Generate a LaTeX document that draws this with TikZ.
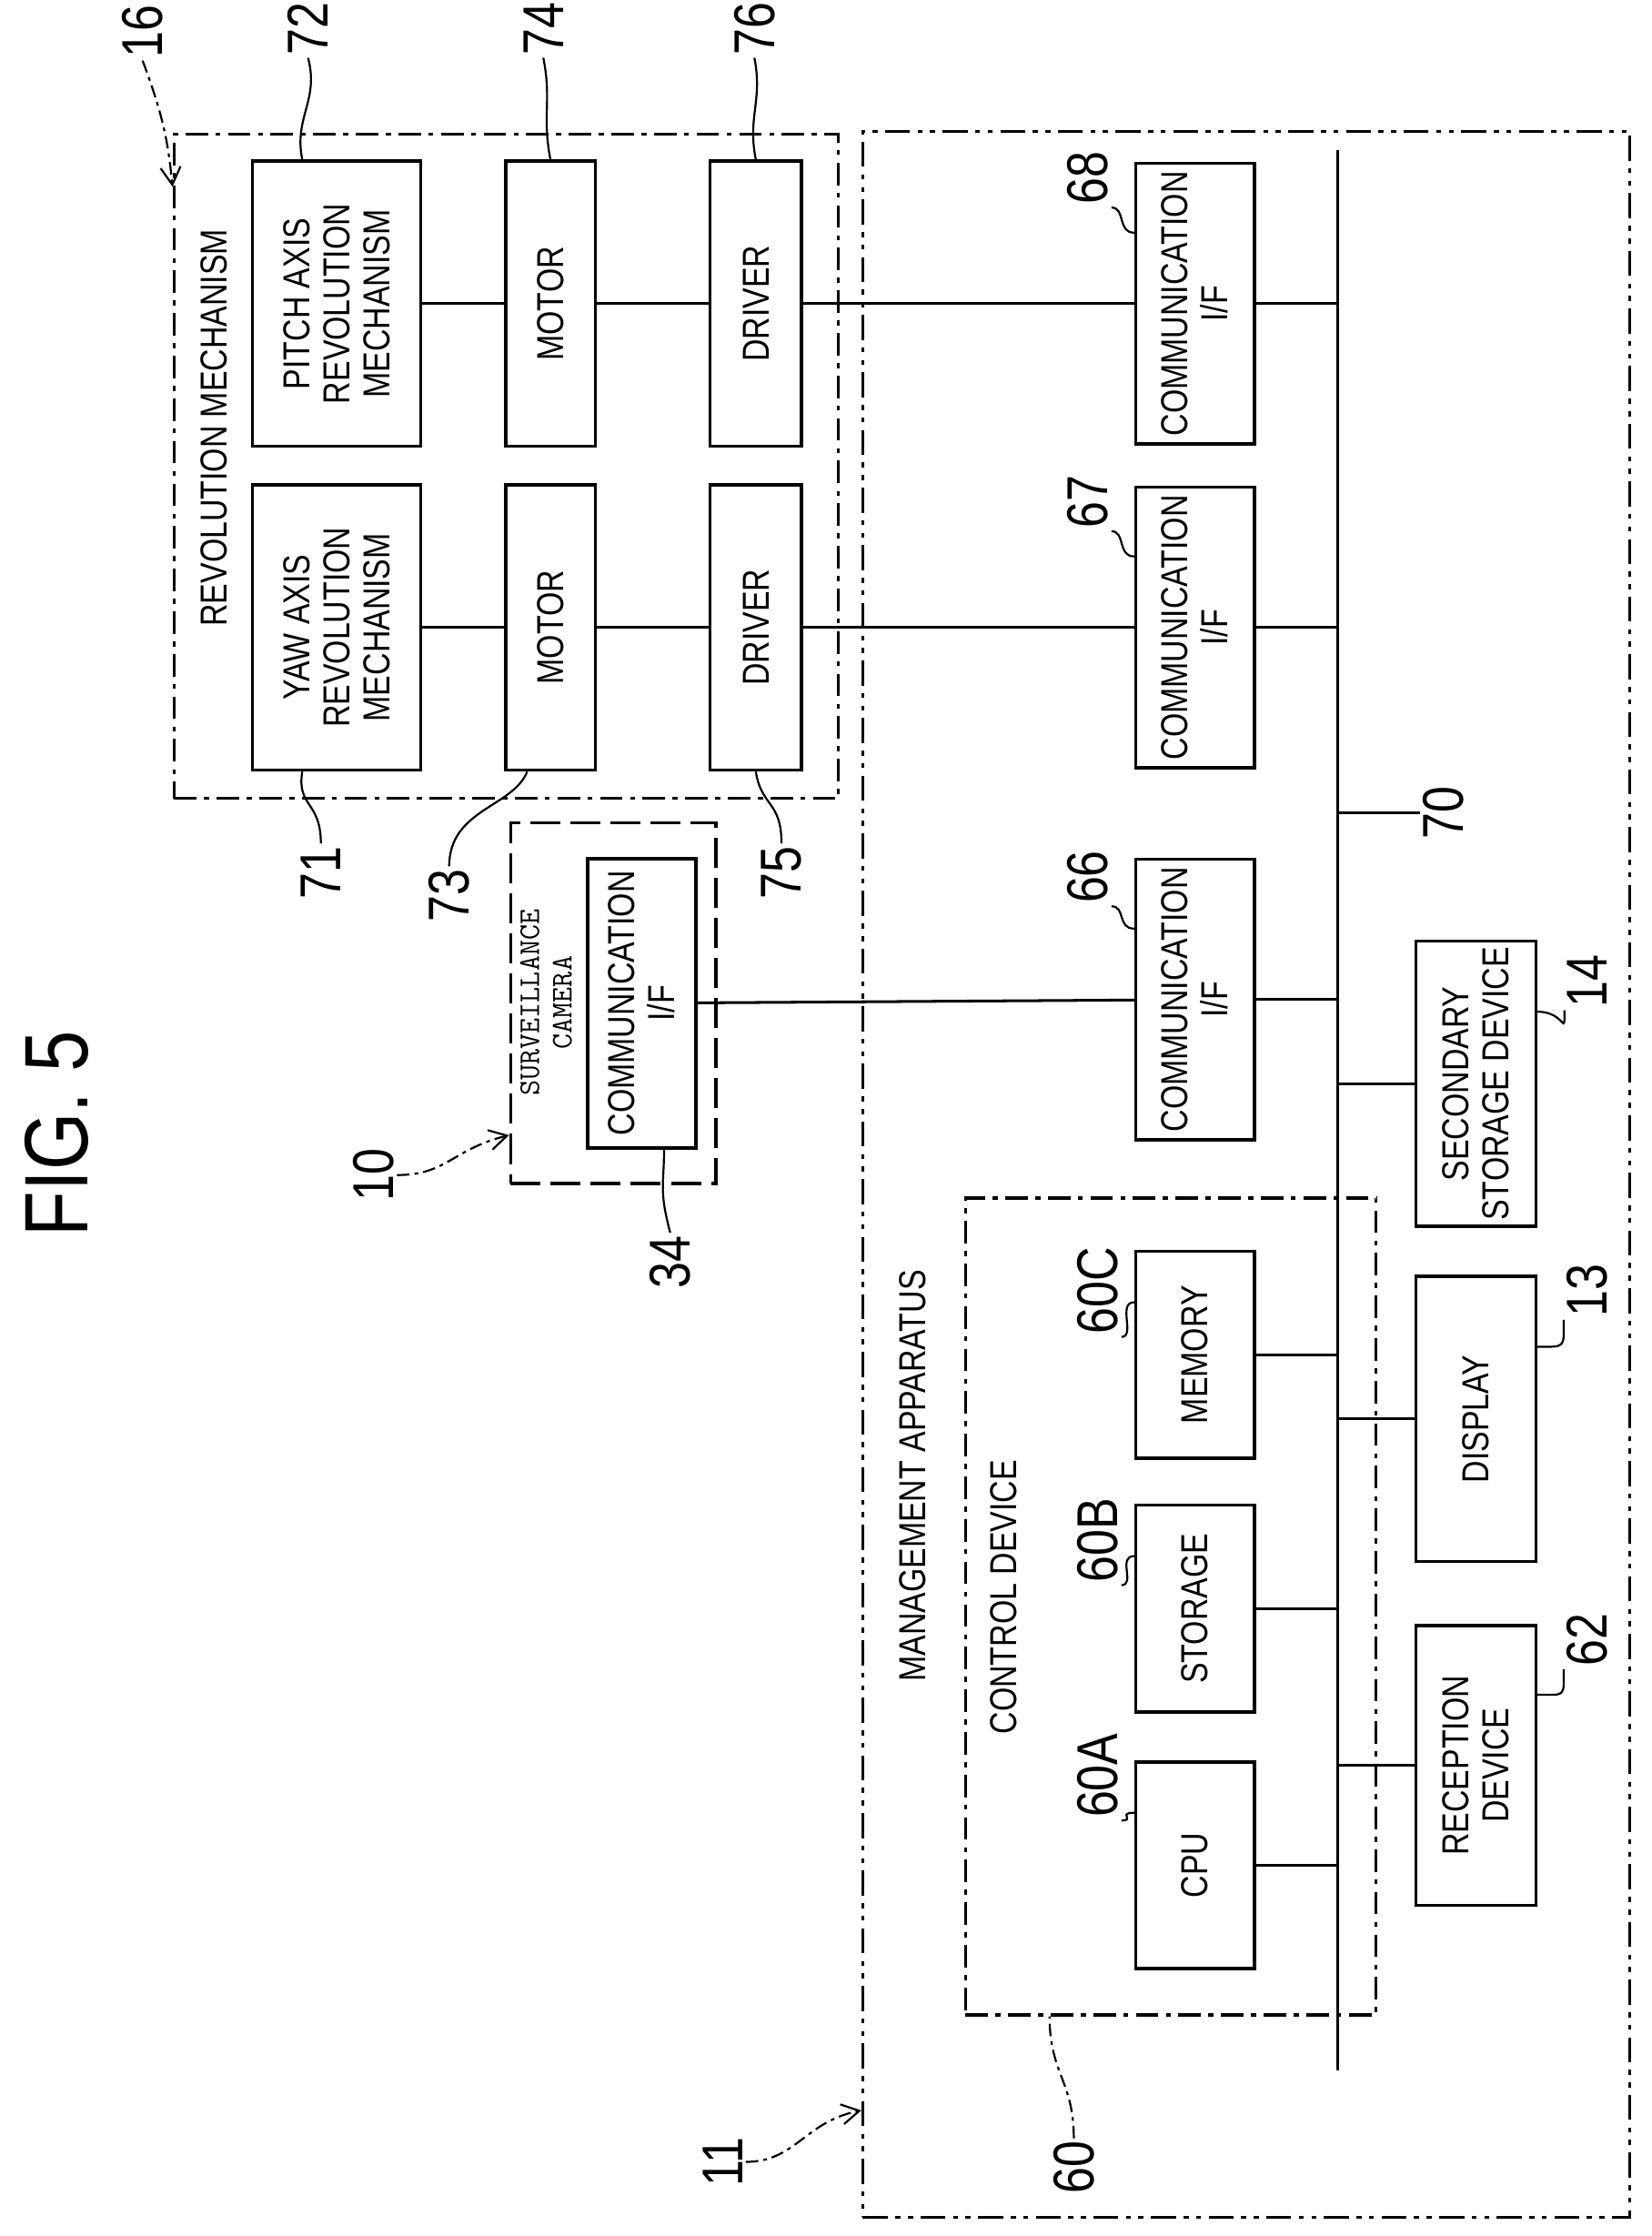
\documentclass[tikz,border=0pt]{standalone}
\usepackage{fontspec}
\setmainfont{Liberation Sans}[FakeStretch=0.82]
\usetikzlibrary{calc,arrows.meta}

\begin{document}
\begin{tikzpicture}[x=0.02cm,y=-0.02cm,
  box/.style={draw,line width=1.3pt,rotate=90,align=center,inner sep=2pt,
    font=\fontsize{15}{16}\selectfont},
  num/.style={rotate=90,inner sep=1pt,font=\fontsize{23}{25}\selectfont},
  title/.style={rotate=90,inner sep=1pt,font=\fontsize{15}{16}\selectfont},
  lead/.style={line width=0.8pt},
  grp/.style={draw,line width=1.2pt,dash pattern=on 9pt off 3pt on 2pt off 3pt},
  arr/.style={line width=0.8pt,dash pattern=on 5pt off 2pt on 1.5pt off 2pt,-{Straight Barb[length=7pt,width=8pt]}}]
  \useasboundingbox (0,0) rectangle (1158,1568);

  \node[rotate=90,font=\fontsize{36}{38}\selectfont] (fig) at (40,795) {FIG. 5};

  % groups
  \node[grp,minimum width=9.32cm,minimum height=9.32cm] (rev) at (355,327) {};
  \node[title] (revt) at (150,300) {REVOLUTION MECHANISM};
  \node[grp,dash pattern=on 10pt off 3pt on 2pt off 3pt on 2pt off 3pt,minimum width=10.76cm,minimum height=29.26cm] (mgmt) at (874,823.5) {};
  \node[title] (mgmtt) at (640,1035) {MANAGEMENT APPARATUS};
  \node[grp,minimum width=5.76cm,minimum height=11.46cm] (ctrl) at (821,1126.5) {};
  \node[title] (ctrlt) at (704,1120) {CONTROL DEVICE};
  \node[draw,line width=1.2pt,dash pattern=on 12pt off 4pt,minimum width=2.88cm,minimum height=5.06cm] (cam) at (430,703.5) {};
  \node[rotate=90,align=center,font=\ttfamily\fontsize{12}{13}\selectfont] (camt) at (383,703) {SURVEILLANCE\\CAMERA};

  % boxes
  \node[box,minimum width=4.0cm,minimum height=2.36cm] (b72) at (236,213) {PITCH AXIS\\REVOLUTION\\MECHANISM};
  \node[box,minimum width=4.0cm,minimum height=2.36cm] (yaw) at (236,440) {YAW AXIS\\REVOLUTION\\MECHANISM};
  \node[box,minimum width=4.0cm,minimum height=1.26cm] (m74) at (386,213) {MOTOR};
  \node[box,minimum width=4.0cm,minimum height=1.26cm] (m73) at (386,440) {MOTOR};
  \node[box,minimum width=4.0cm,minimum height=1.28cm] (d76) at (530,213) {DRIVER};
  \node[box,minimum width=4.0cm,minimum height=1.28cm] (d75) at (530,440) {DRIVER};
  \node[box,minimum width=3.94cm,minimum height=1.66cm] (c68) at (838,213) {COMMUNICATION\\I/F};
  \node[box,minimum width=3.94cm,minimum height=1.66cm] (c67) at (838,440) {COMMUNICATION\\I/F};
  \node[box,minimum width=3.94cm,minimum height=1.66cm] (c66) at (838,701) {COMMUNICATION\\I/F};
  \node[box,minimum width=4.06cm,minimum height=1.52cm] (c34) at (450,703.5) {COMMUNICATION\\I/F};
  \node[box,minimum width=4.0cm,minimum height=1.68cm] (sec) at (1035,760) {SECONDARY\\STORAGE DEVICE};
  \node[box,minimum width=4.0cm,minimum height=1.68cm] (disp) at (1035,995) {DISPLAY};
  \node[box,minimum width=3.92cm,minimum height=1.68cm] (recv) at (1035,1238) {RECEPTION\\DEVICE};
  \node[box,minimum width=2.9cm,minimum height=1.66cm] (mem) at (838,950) {MEMORY};
  \node[box,minimum width=2.9cm,minimum height=1.66cm] (sto) at (838,1128) {STORAGE};
  \node[box,minimum width=2.9cm,minimum height=1.66cm] (cpu) at (838,1308) {CPU};

  % bus
  \coordinate (bustop) at (938,105);
  \coordinate (busbot) at (938,1452);
  \draw[line width=1.1pt] (bustop) -- (busbot);

  % connections
  \draw[line width=1.1pt] (b72) -- (m74);
  \draw[line width=1.1pt] (m74) -- (d76);
  \draw[line width=1.1pt] (d76) -- (c68);
  \draw[line width=1.1pt] (yaw) -- (m73);
  \draw[line width=1.1pt] (m73) -- (d75);
  \draw[line width=1.1pt] (d75) -- (c67);
  \draw[line width=1.1pt] (c34) -- (c66);
  \foreach \n in {c68,c67,c66,sec,disp,recv,mem,sto,cpu}
    \draw[line width=1.1pt] (\n) -- (\n -| bustop);

  % reference numerals
  \node[num] (n72) at (216,20) {72};
  \node[num] (n74) at (381,20) {74};
  \node[num] (n76) at (529,20) {76};
  \node[num] (n16) at (100,22) {16};
  \node[num] (n68) at (763,125) {68};
  \node[num] (n67) at (763,352) {67};
  \node[num] (n66) at (763,615) {66};
  \node[num] (n71) at (225,612) {71};
  \node[num] (n73) at (315,628) {73};
  \node[num] (n75) at (548,612) {75};
  \node[num] (n70) at (1012,570) {70};
  \node[num] (n14) at (1113,688) {14};
  \node[num] (n13) at (1113,905) {13};
  \node[num] (n62) at (1113,1150) {62};
  \node[num] (n60C) at (770,905) {60C};
  \node[num] (n60B) at (770,1080) {60B};
  \node[num] (n60A) at (770,1245) {60A};
  \node[num] (n60) at (753,1520) {60};
  \node[num] (n11) at (507,1516) {11};
  \node[num] (n10) at (262,824) {10};
  \node[num] (n34) at (470,885) {34};

  % leaders
  \draw[lead] (n72.west) .. controls +(8,30) and +(-6,-30) .. ($(b72.east)!0.4!(b72.north east)$);
  \draw[lead] (n74.west) .. controls +(6,30) and +(-6,-30) .. (m74.east);
  \draw[lead] (n76.west) .. controls +(6,30) and +(-6,-30) .. (d76.east);
  \draw[lead] (n68.south west) .. controls +(10,0) and +(-12,0) .. ($(c68.north)!0.5!(c68.north east)$);
  \draw[lead] (n67.south west) .. controls +(10,0) and +(-12,0) .. ($(c67.north)!0.5!(c67.north east)$);
  \draw[lead] (n66.south west) .. controls +(10,0) and +(-12,0) .. ($(c66.north)!0.5!(c66.north east)$);
  \draw[lead] (n71.east) .. controls +(0,-30) and +(-4,25) .. ($(yaw.west)!0.4!(yaw.north west)$);
  \draw[lead] (n73.east) .. controls +(0,-40) and +(-10,25) .. ($(m73.west)!0.5!(m73.north west)$);
  \draw[lead] (n75.east) .. controls +(0,-30) and +(4,25) .. (d75.west);
  \draw[lead] (n70.north) .. controls +(-25,0) and +(20,0) .. (bustop |- n70);
  \draw[lead] (n14.north west) .. controls +(0,20) and +(20,0) .. ($(sec.south)!0.5!(sec.south east)$);
  \draw[lead] (n13.north west) .. controls +(0,20) and +(20,0) .. ($(disp.south)!0.5!(disp.south east)$);
  \draw[lead] (n62.north west) .. controls +(0,20) and +(20,0) .. ($(recv.south)!0.5!(recv.south east)$);
  \draw[lead] (n60C.south west) .. controls +(10,0) and +(-12,0) .. ($(mem.north)!0.5!(mem.north east)$);
  \draw[lead] (n60B.south west) .. controls +(10,0) and +(-12,0) .. ($(sto.north)!0.5!(sto.north east)$);
  \draw[lead] (n60A.south west) .. controls +(10,0) and +(-12,0) .. ($(cpu.north)!0.5!(cpu.north east)$);
  \draw[lead] (n34.east) .. controls +(-8,-30) and +(0,25) .. ($(c34.west)!0.4!(c34.south west)$);
  \draw[lead,dash pattern=on 5pt off 2pt on 1.5pt off 2pt] (n60.east) .. controls +(0,-40) and +(0,40) .. ($(ctrl.south west)+(60,0)$);

  % pointers to units
  \draw[arr] (n16.west) .. controls +(15,40) and +(-3,-30) .. ($(rev.north west)+(0,38)$);
  \draw[arr] (n11.south) .. controls +(35,0) and +(-40,8) .. ($(mgmt.south west)+(0,-76)$);
  \draw[arr] (n10.south) .. controls +(35,0) and +(-40,10) .. ($(cam.south west)+(0,-35)$);
\end{tikzpicture}
\end{document}
